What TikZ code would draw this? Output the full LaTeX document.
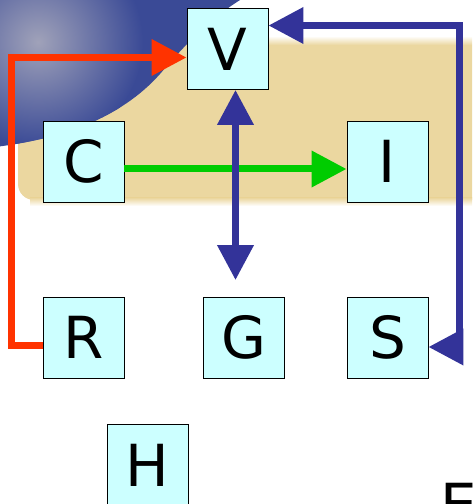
\documentclass[tikz,border=0pt]{standalone}
\usepackage{fontspec}
\setmainfont{DejaVu Sans}
\usetikzlibrary{arrows.meta}

\definecolor{boxfill}{RGB}{204,255,255}
\definecolor{flowred}{RGB}{255,51,0}
\definecolor{flowblue}{RGB}{51,51,153}
\definecolor{flowgreen}{RGB}{0,204,0}
\definecolor{bandtan}{RGB}{235,215,160}
\definecolor{blobblue}{RGB}{58,74,150}
\definecolor{blobglow}{RGB}{160,162,185}

\begin{document}
\begin{tikzpicture}[x=1pt,y=1pt,
	>={Triangle[length=35pt,width=35pt]},
	var/.style={draw, line width=0.9pt, fill=boxfill, minimum size=81pt, inner sep=0pt, font=\fontsize{58}{58}\selectfont},
	link/.style={line width=7pt}]
\clip (0,0) rectangle (472,504);
\fill[white] (0,0) rectangle (472,504);
\fill[bandtan, rounded corners=16pt] (18,304) rectangle (500,459);
\shade[top color=white, bottom color=bandtan] (0,459) rectangle (472,468);
\shade[top color=bandtan, bottom color=white] (30,298) rectangle (472,306);
\begin{scope}
	\clip (-5,357) .. controls (60,365) and (120,385) .. (160,430) .. controls (190,465) and (215,490) .. (250,510) -- (-5,510) -- cycle;
	\fill[blobblue] (-5,300) rectangle (260,510);
	\shade[inner color=blobglow, outer color=blobblue] (38,462) circle (105);
\end{scope}

\node[var] (V) at (227.5,455) {V};
\node[var] (C) at (83.5,342.5) {C};
\node[var] (I) at (387.5,342.5) {I};
\node[var] (R) at (83.5,166.5) {R};
\node[var] (G) at (243.5,166.5) {G};
\node[var] (S) at (387.5,166.5) {S};
\node[var] (H) at (147.5,39) {H};
\node[anchor=base west, inner sep=0pt, font=\fontsize{58}{58}\selectfont] (E) at (440,-21) {E};

\coordinate (redturn) at (11,446.5);
\coordinate (blueturn) at (459,478.5);

\draw[link, flowgreen, ->] ([yshift=-7.5pt]C.east) -- ([yshift=-7.5pt]I.west);
\draw[link, flowblue, <->] ([xshift=8pt]V.south) -- ([xshift=-8pt,yshift=16.5pt]G.north);
\draw[link, flowred, ->] ([yshift=-8pt]R.west) -| (redturn) -- ([yshift=-8.5pt]V.west);
\draw[link, flowblue, <->] ([yshift=-9.5pt]S.east) -| (blueturn) -- ([yshift=23.5pt]V.east);
\end{tikzpicture}
\end{document}
